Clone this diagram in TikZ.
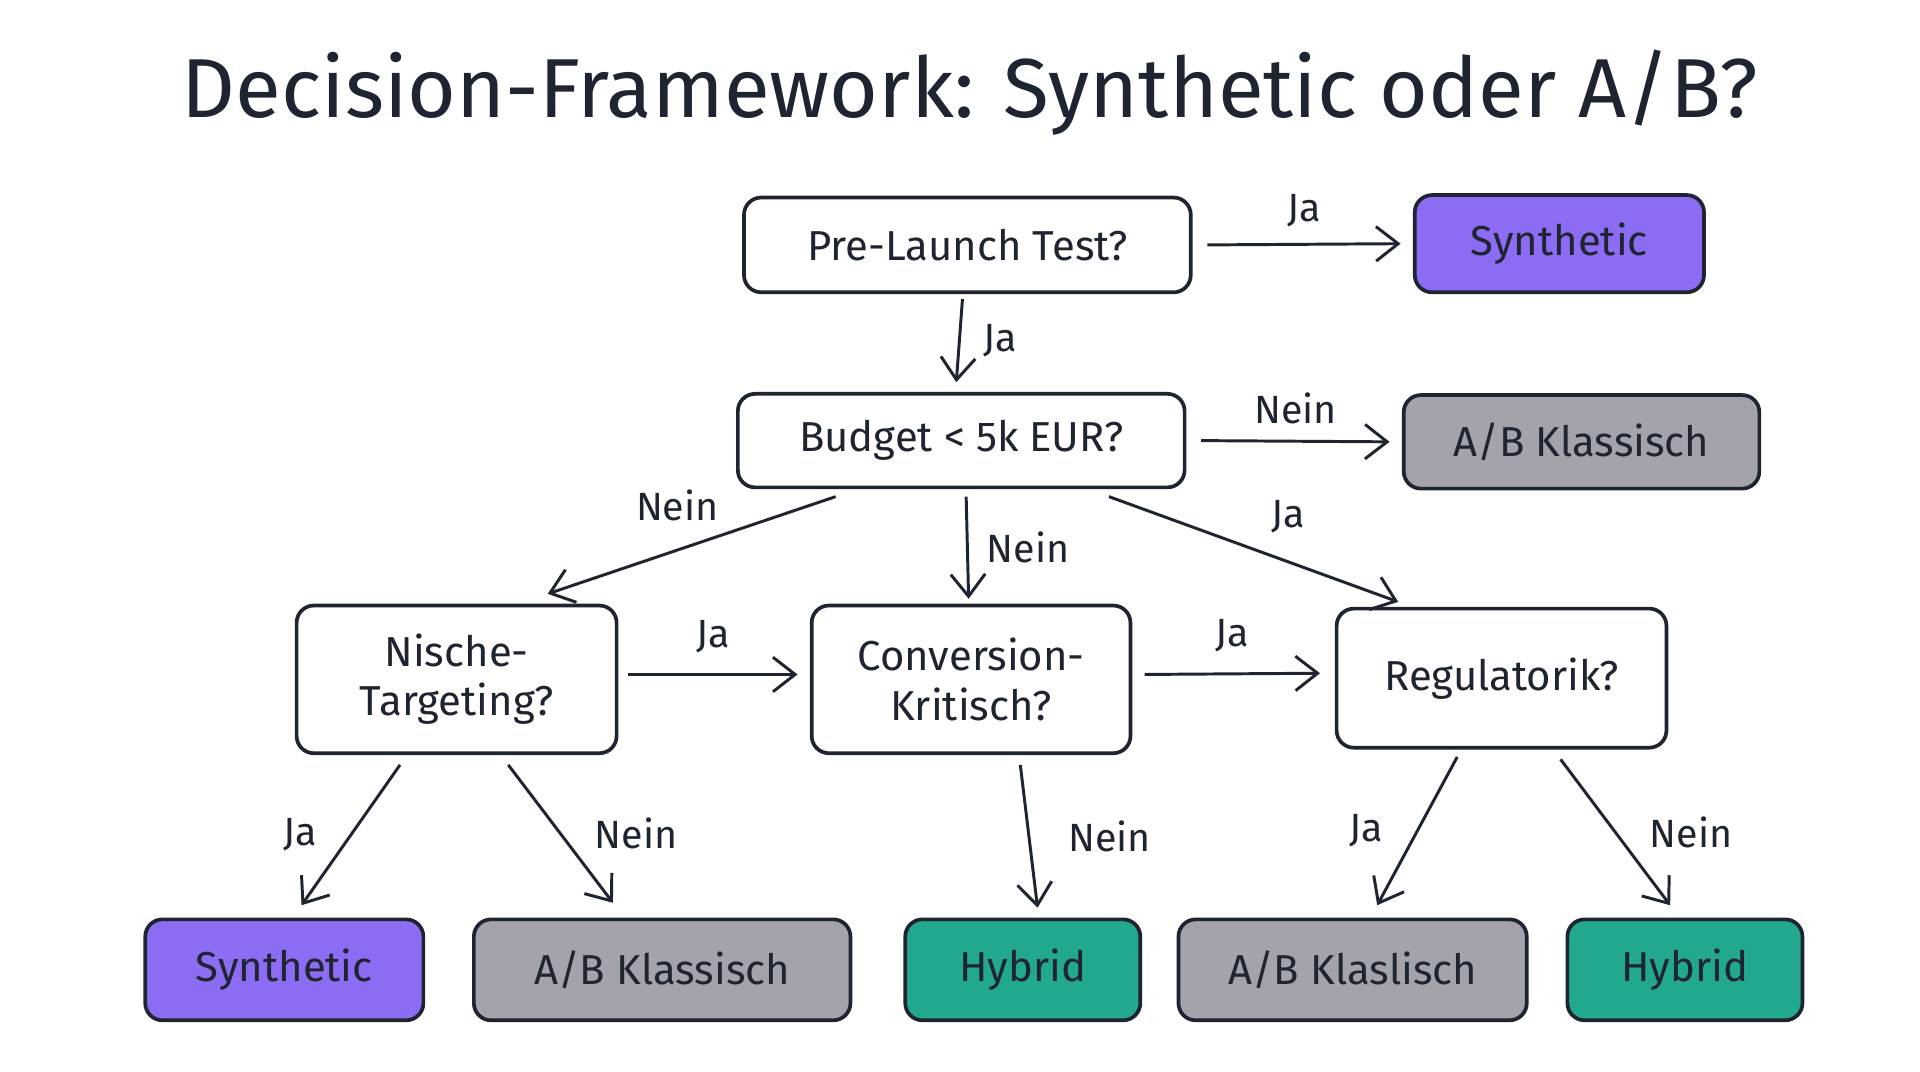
\documentclass[tikz,border=0pt]{standalone}
\usepackage{fontspec}
\setmainfont{Fira Sans}
\usetikzlibrary{arrows.meta}
\definecolor{ink}{HTML}{1E2430}
\definecolor{purp}{HTML}{8B6CF2}
\definecolor{grey}{HTML}{A3A4AB}
\definecolor{teal}{HTML}{22A88C}
\begin{document}
\begin{tikzpicture}[x=0.5pt,y=-0.5pt,
  box/.style={draw=ink,line width=1.5pt,rounded corners=7pt,fill=white,font=\fontsize{17}{20}\selectfont,text=ink,align=center,inner sep=0pt},
  dec/.style={box},
  res/.style={box},
  arr/.style={draw=ink,line width=1.2pt,-{Straight Barb[length=9pt,width=14pt,line width=1.2pt]}},
  lab/.style={font=\fontsize{16}{19}\selectfont,text=ink}]
\fill[white] (0,0) rectangle (1560,871);
\useasboundingbox (0,0) rectangle (1560,871);
\node[text=ink,font=\fontsize{34}{38}\selectfont] (title) at (788,75) {Decision-Framework: Synthetic oder A/B?};
\node[dec,minimum width=181.5pt,minimum height=38.5pt] (pre) at (786,199) {Pre-Launch Test?};
\node[res,fill=purp,minimum width=117.5pt,minimum height=39.5pt] (syn1) at (1267,198) {Synthetic};
\node[dec,minimum width=181.5pt,minimum height=38pt] (bud) at (781,358) {Budget < 5k EUR?};
\node[res,fill=grey,minimum width=144.5pt,minimum height=38pt] (ab1) at (1285,359) {A/B Klassisch};
\node[dec,minimum width=130pt,minimum height=60pt] (nis) at (371,552) {Nische-\\Targeting?};
\node[dec,minimum width=129.5pt,minimum height=60pt] (con) at (789,552) {Conversion-\\Kritisch?};
\node[dec,minimum width=134pt,minimum height=56.5pt] (reg) at (1220,551) {Regulatorik?};
\node[res,fill=purp,minimum width=113pt,minimum height=41pt] (syn2) at (231,788) {Synthetic};
\node[res,fill=grey,minimum width=153pt,minimum height=41pt] (ab2) at (538,788) {A/B Klassisch};
\node[res,fill=teal,minimum width=95.5pt,minimum height=41pt] (hy1) at (831,788) {Hybrid};
\node[res,fill=grey,minimum width=141.5pt,minimum height=41pt] (ab3) at (1099,788) {A/B Klaslisch};
\node[res,fill=teal,minimum width=95.5pt,minimum height=41pt] (hy2) at (1369,788) {Hybrid};
% connectors
\draw[arr] ([xshift=6pt]pre.east) -- ([xshift=-5pt]syn1.west) node[lab,midway,above=3pt] {Ja};
\draw[arr] ([xshift=-2pt,yshift=-2pt]pre.south) -- ([xshift=-2pt,yshift=4pt]bud.north) node[lab,midway,right=6pt] {Ja};
\draw[arr] ([xshift=6pt]bud.east) -- ([xshift=-5pt]ab1.west) node[lab,midway,above=3pt] {Nein};
\draw[arr] ([xshift=-51pt,yshift=-3pt]bud.south) -- ([xshift=37pt,yshift=4pt]nis.north) node[lab,pos=0.55,above=8pt] {Nein};
\draw[arr] ([xshift=2pt,yshift=-3pt]bud.south) -- ([xshift=-1pt,yshift=2pt]con.north) node[lab,midway,right=4pt] {Nein};
\draw[arr] ([xshift=60pt,yshift=-3pt]bud.south) -- ([xshift=-42pt,yshift=2pt]reg.north) node[lab,pos=0.62,above=8pt] {Ja};
\draw[arr] ([xshift=4pt,yshift=2pt]nis.east) -- ([xshift=-5pt,yshift=2pt]con.west) node[lab,midway,above=5pt] {Ja};
\draw[arr] ([xshift=5pt,yshift=2pt]con.east) -- ([xshift=-6pt,yshift=2pt]reg.west) node[lab,midway,above=5pt] {Ja};
\draw[arr] ([xshift=-23pt,yshift=-4pt]nis.south) -- ([xshift=7pt,yshift=5pt]syn2.north) node[lab,midway,left=10pt] {Ja};
\draw[arr] ([xshift=21pt,yshift=-4pt]nis.south) -- ([xshift=-20pt,yshift=6pt]ab2.north) node[lab,midway,right=10pt] {Nein};
\draw[arr] ([xshift=20pt,yshift=-4pt]con.south) -- ([xshift=6pt,yshift=4pt]hy1.north) node[lab,midway,right=12pt] {Nein};
\draw[arr] ([xshift=-18pt,yshift=-3pt]reg.south) -- ([xshift=10pt,yshift=5pt]ab3.north) node[lab,midway,left=10pt] {Ja};
\draw[arr] ([xshift=24pt,yshift=-4pt]reg.south) -- ([xshift=-6pt,yshift=5pt]hy2.north) node[lab,midway,right=10pt] {Nein};
\end{tikzpicture}
\end{document}
